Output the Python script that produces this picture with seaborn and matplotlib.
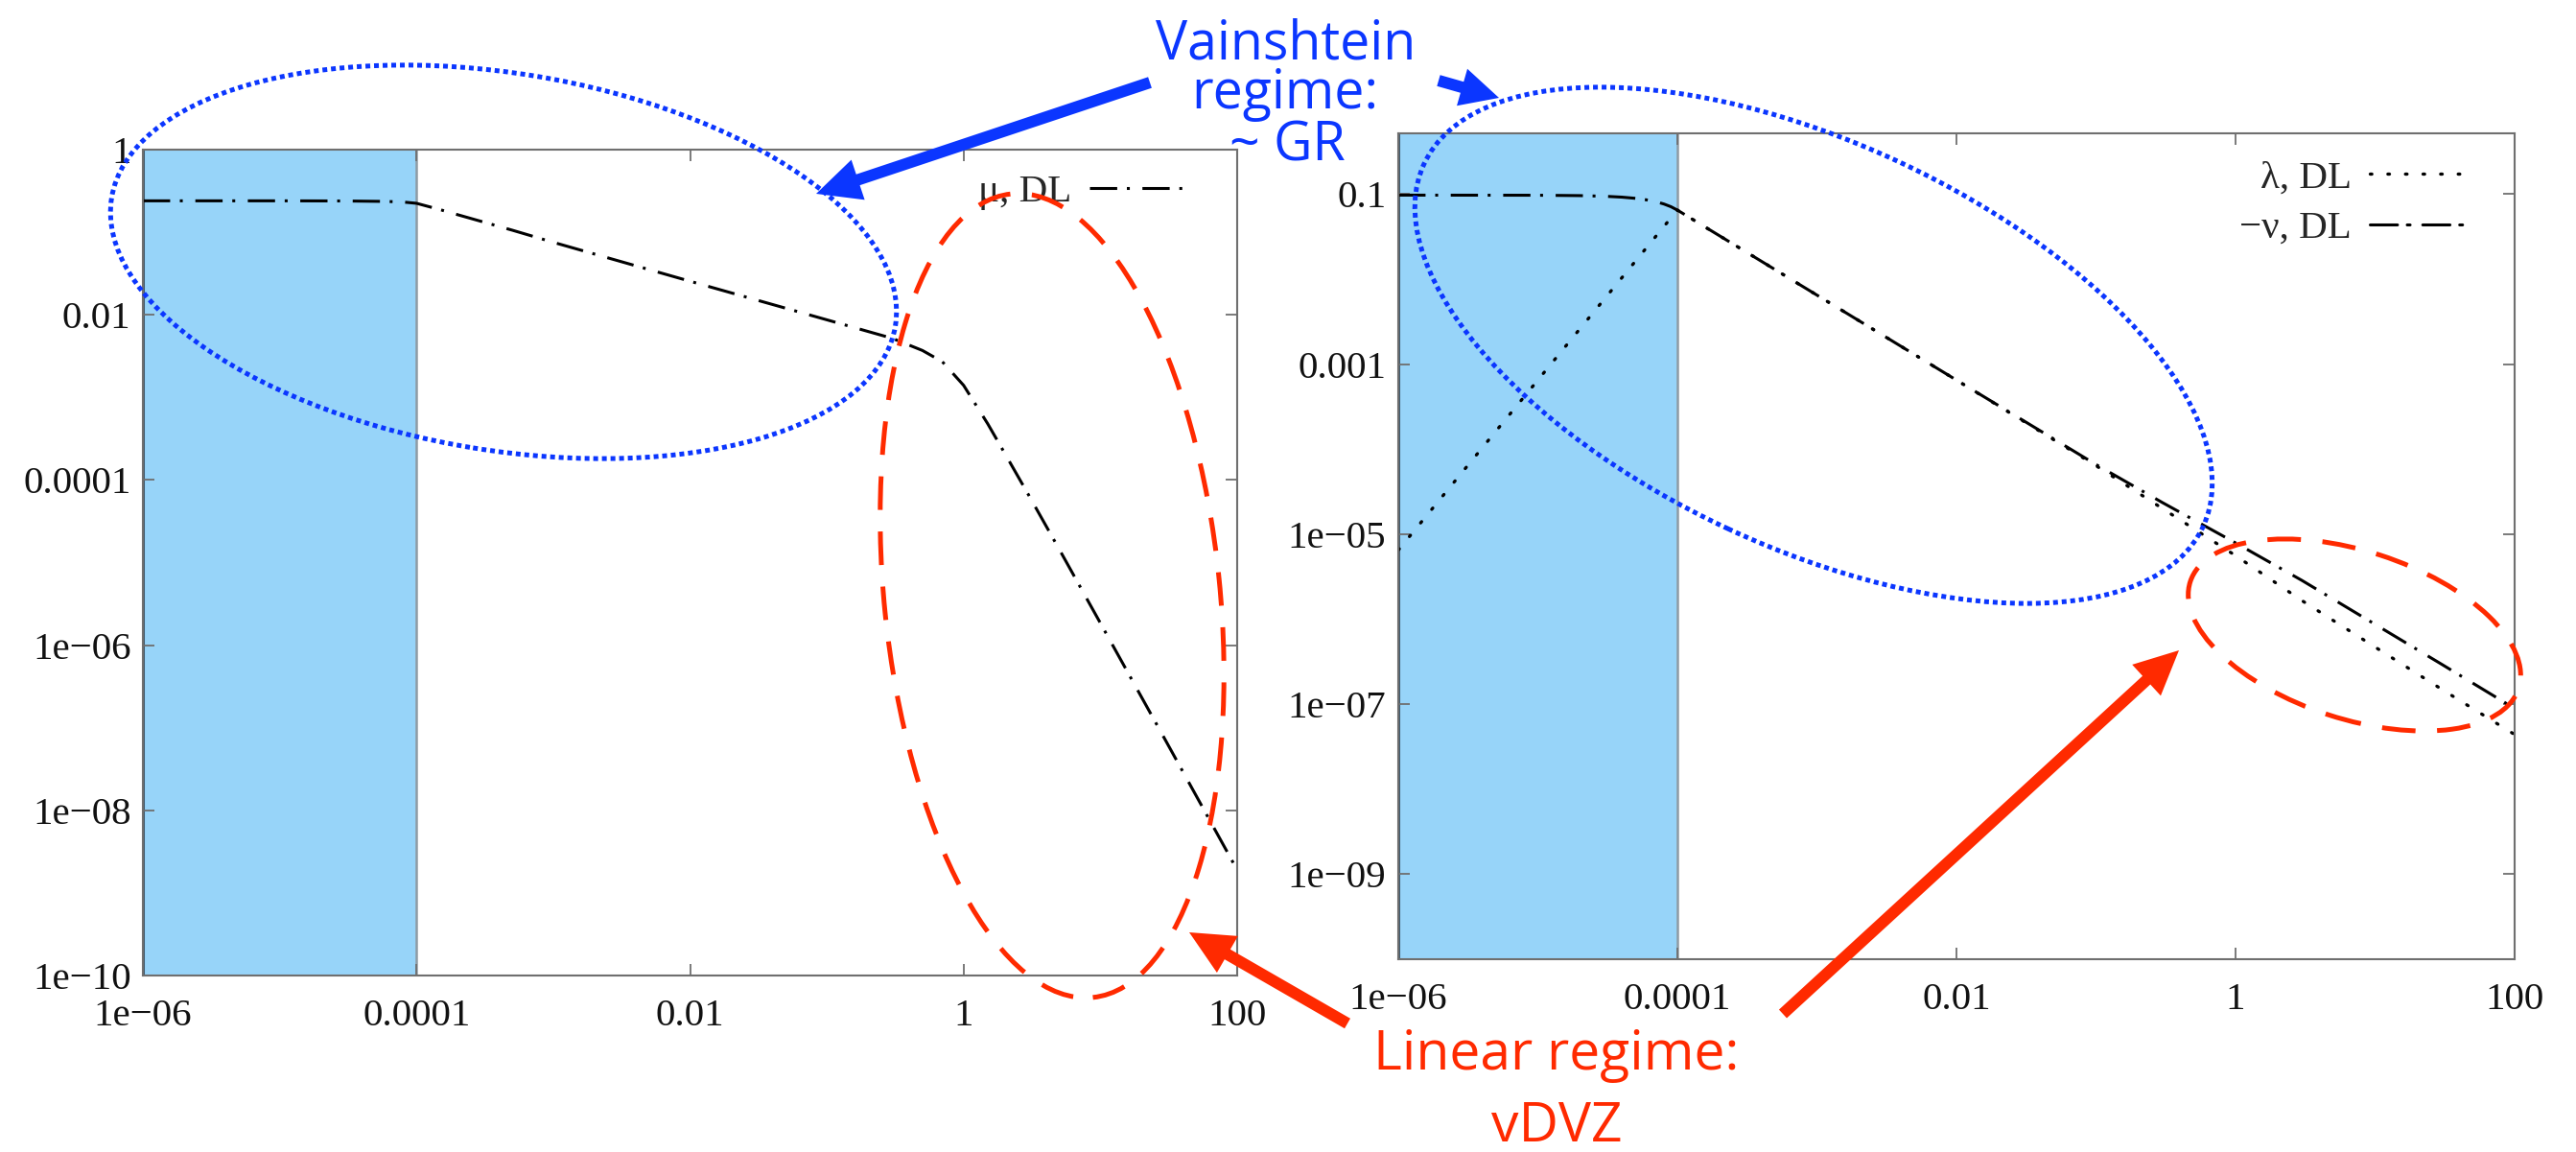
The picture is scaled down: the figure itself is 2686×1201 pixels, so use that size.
import matplotlib
matplotlib.use("Agg")
import matplotlib.pyplot as plt
import seaborn as sns
import pandas as pd
from matplotlib.patches import Ellipse, FancyArrow

# ---------------- data ----------------
# left panel: mu, DL
r_mu = [1e-6, 1e-5, 3e-5, 6e-5, 8e-5, 1e-4, 1.5e-4, 2e-4, 5e-4, 1e-3, 1e-2,
        0.1, 0.3, 0.5, 0.7, 1.0, 1.5, 2.0, 3.0, 5.0, 10.0, 30.0, 100.0]
mu_DL = [0.24, 0.24, 0.239, 0.236, 0.232, 0.224, 0.187, 0.163, 0.106, 0.0755, 0.0255,
         0.0087, 0.0052, 0.0037, 0.0027, 0.0014, 0.00048, 0.00021, 6.5e-5, 1.45e-5, 1.85e-6,
         7.0e-8, 1.9e-9]

# right panel: lambda, DL and -nu, DL
r_lam = [1e-6, 1e-5, 3e-5, 6e-5, 1e-4, 1.2e-4, 1.5e-4, 2e-4, 1e-3, 1e-2, 0.1, 0.3,
         1.0, 3.0, 10.0, 30.0, 100.0]
lam_DL = [6.5e-6, 6.5e-4, 5.85e-3, 0.0234, 0.065, 0.0542, 0.0433, 0.0325, 0.0065, 6.5e-4,
          6.4e-5, 2.0e-5, 5.6e-6, 1.65e-6, 4.7e-7, 1.5e-7, 4.4e-8]

r_nu = [1e-6, 1e-5, 2e-5, 3e-5, 4e-5, 5e-5, 6e-5, 7e-5, 8e-5, 9e-5, 1e-4, 1.2e-4,
        1.5e-4, 2e-4, 1e-3, 1e-2, 0.1, 0.3, 1.0, 3.0, 10.0, 30.0, 100.0]
minus_nu_DL = [0.0975, 0.0972, 0.0962, 0.0946, 0.0923, 0.0894, 0.0858, 0.0816, 0.0767,
               0.0712, 0.065, 0.0542, 0.0433, 0.0325, 0.0065, 6.5e-4, 6.6e-5, 2.35e-5,
               7.9e-6, 2.85e-6, 8.7e-7, 2.95e-7, 8.9e-8]

x_ticks = [1e-6, 1e-4, 1e-2, 1, 100]
x_tick_labels = ["1e\u221206", "0.0001", "0.01", "1", "100"]
yL_ticks = [1, 1e-2, 1e-4, 1e-6, 1e-8, 1e-10]
yL_tick_labels = ["1", "0.01", "0.0001", "1e\u221206", "1e\u221208", "1e\u221210"]
yR_ticks = [1e-1, 1e-3, 1e-5, 1e-7, 1e-9]
yR_tick_labels = ["0.1", "0.001", "1e\u221205", "1e\u221207", "1e\u221209"]
source_region = (1e-6, 1e-4)

# ---------------- styling ----------------
W, H, DPI = 2686, 1201, 100
sns.set_theme(style="white")
plt.rcParams["font.family"] = ["Liberation Serif", "DejaVu Serif"]
plt.rcParams["axes.unicode_minus"] = True

BLUE_FILL = "#97d4f9"
SPINE = "#6f6f6f"
BLUE = "#0b36ff"
RED = "#ff2a00"
DASHDOT = (0, (9.3, 3.3, 1.0, 4.3))
DOTTED = (0, (0.5, 5.0))
TICKFS = 29.5

fig = plt.figure(figsize=(W / DPI, H / DPI), dpi=DPI, facecolor="white")


def rect(x0, y0, x1, y1):
    return [x0 / W, 1 - y1 / H, (x1 - x0) / W, (y1 - y0) / H]


axL = fig.add_axes(rect(149, 156, 1290, 1017))
axR = fig.add_axes(rect(1458, 139, 2622, 1000))


def style_axes(ax, yticks, ylabels, ylim):
    ax.set_xscale("log")
    ax.set_yscale("log")
    ax.set_xlim(1e-6, 100)
    ax.set_ylim(*ylim)
    ax.set_xticks(x_ticks, x_tick_labels)
    ax.set_yticks(yticks, ylabels)
    ax.minorticks_off()
    ax.tick_params(axis="both", which="major", direction="in", length=8.5, width=1.3,
                   color=SPINE, labelsize=TICKFS, labelcolor="#111111",
                   top=True, right=True, bottom=True, left=True)
    ax.tick_params(axis="x", pad=17)
    ax.tick_params(axis="y", pad=9)
    for s in ax.spines.values():
        s.set_color(SPINE)
        s.set_linewidth(1.5)
        s.set_zorder(5)
    ax.set_facecolor("white")
    ax.axvspan(source_region[0], source_region[1], facecolor=BLUE_FILL, edgecolor="none", zorder=0)
    ax.axvline(source_region[1], color="#8e9ba4", lw=1.8, zorder=0.5)
    ax.axvline(source_region[0], color="#3f5a6c", lw=2.2, zorder=0.5)
    ax.grid(False)


style_axes(axL, yL_ticks, yL_tick_labels, (1e-10, 1))
style_axes(axR, yR_ticks, yR_tick_labels, (1e-10, 0.52))

dfL = pd.DataFrame({"r": r_mu, "mu": mu_DL})
sns.lineplot(data=dfL, x="r", y="mu", ax=axL, color="black", lw=2.2,
             linestyle=DASHDOT, label="\u03bc, DL", errorbar=None, zorder=3)

dfLam = pd.DataFrame({"r": r_lam, "v": lam_DL})
dfNu = pd.DataFrame({"r": r_nu, "v": minus_nu_DL})
sns.lineplot(data=dfLam, x="r", y="v", ax=axR, color="black", lw=2.4,
             linestyle=DOTTED, label="\u03bb, DL", errorbar=None, zorder=3)
sns.lineplot(data=dfNu, x="r", y="v", ax=axR, color="black", lw=2.2,
             linestyle=DASHDOT, label="\u2212\u03bd, DL", errorbar=None, zorder=3)
for ln in axR.lines:
    if ln.get_label() == "\u03bb, DL":
        ln.set_dash_capstyle("round")

for ax in (axL, axR):
    ax.set_xlabel("")
    ax.set_ylabel("")

legL = axL.legend(loc="center right", bbox_to_anchor=(1236 / W, 1 - 200 / H),
                  bbox_transform=fig.transFigure, frameon=False, markerfirst=False,
                  handlelength=2.45, handletextpad=0.45, borderpad=0, borderaxespad=0,
                  fontsize=TICKFS)
legR = axR.legend(loc="center right", bbox_to_anchor=(2571 / W, 1 - 212 / H),
                  bbox_transform=fig.transFigure, frameon=False, markerfirst=False,
                  handlelength=2.45, handletextpad=0.45, borderpad=0, borderaxespad=0,
                  labelspacing=0.35, fontsize=TICKFS)
for lh in legR.get_lines():
    lh.set_dash_capstyle("round")

# ---------------- annotation overlay (figure pixel coordinates) ----------------
axO = fig.add_axes([0, 0, 1, 1], zorder=10)
axO.set_xlim(0, W)
axO.set_ylim(0, H)
axO.axis("off")
axO.patch.set_alpha(0)


def P(x, y):
    return (x, H - y)


def ell(cx, cy, w, h, ang, color, ls):
    axO.add_patch(Ellipse(P(cx, cy), w, h, angle=ang, fill=False, edgecolor=color,
                          lw=3.6, linestyle=ls))


def arrow(x0, y0, x1, y1, color, width=12, hw=44, hl=46):
    axO.add_patch(FancyArrow(x0, H - y0, x1 - x0, -(y1 - y0), width=width,
                             head_width=hw, head_length=hl, length_includes_head=True,
                             color=color, lw=0))


DOTS = (0, (1.0, 0.8))
DASHES = (0, (7.0, 4.5))
ell(525, 273, 828, 393, -9.3, BLUE, DOTS)
ell(1891, 360, 896, 422, -25, BLUE, DOTS)
ell(1097, 621, 350, 842, 5.8, RED, DASHES)
ell(2455, 662, 360, 175, -18, RED, DASHES)

arrow(1199, 86, 851, 202, BLUE)
arrow(1500, 84, 1563, 102, BLUE, hw=40, hl=40)
arrow(1405, 1067, 1240, 972, RED)
arrow(1859, 1057, 2272, 678, RED)

TFS = 40
tf = ["Open Sans", "DejaVu Sans"]
axO.text(1341, H - 62, "Vainshtein", ha="center", va="baseline", color=BLUE, fontsize=TFS, family=tf)
axO.text(1340, H - 113, "regime:", ha="center", va="baseline", color=BLUE, fontsize=TFS, family=tf)
axO.text(1342, H - 168, "~ GR", ha="center", va="baseline", color=BLUE, fontsize=TFS, family=tf)
axO.text(1623, H - 1115, "Linear regime:", ha="center", va="baseline", color=RED, fontsize=TFS + 1, family=tf)
axO.text(1623, H - 1190, "vDVZ", ha="center", va="baseline", color=RED, fontsize=TFS + 1, family=tf)

fig.savefig("out.png", dpi=DPI, facecolor="white")
